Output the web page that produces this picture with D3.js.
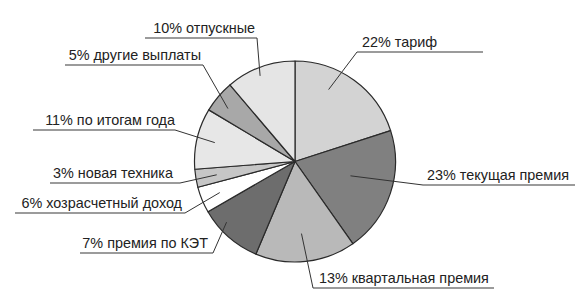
<!DOCTYPE html>
<html><head><meta charset="utf-8">
<script src="https://cdn.jsdelivr.net/npm/d3@7"></script>
<style>html,body{margin:0;padding:0;background:#fff;}svg{display:block;}</style>
</head><body>
<svg id="chart" width="583" height="297"></svg>
<script>
// Data (clockwise from 12 o'clock)
const categories = ["тариф","текущая премия","квартальная премия","премия по КЭТ","хозрасчетный доход","новая техника","по итогам года","другие выплаты","отпускные"];
const percentLabels = [22, 23, 13, 7, 6, 3, 11, 5, 10];
// slice shares as drawn in the picture (percent of the circle)
const sliceShares = [20.0, 20.2, 16.1, 10.3, 4.2, 2.9, 9.8, 5.2, 11.2];
const fills = ["#d3d3d3","#808080","#b9b9b9","#6d6d6d","#ffffff","#c6c6c6","#e7e7e7","#a8a8a8","#e5e5e5"];

// Label layout (annotation positions)
const labelLayout = [
  {side:"R", tx:362, ux0:357, ux1:483, uy:52, r:0.79, da:-11},
  {side:"R", tx:427, ux0:423, ux1:575, uy:185, r:0.57, da:-4},
  {side:"R", tx:319, ux0:313, ux1:494, uy:288, r:0.72, da:1},
  {side:"L", tx:208, ux0:80,  ux1:213, uy:253, r:0.91, da:7},
  {side:"L", tx:182, ux0:15,  ux1:185, uy:213, r:0.81, da:0},
  {side:"L", tx:173, ux0:50,  ux1:180, uy:183, r:0.79, da:0},
  {side:"L", tx:175, ux0:33,  ux1:175, uy:130, r:0.82, da:0},
  {side:"L", tx:201, ux0:65,  ux1:203, uy:65,  r:0.85, da:-2},
  {side:"L", tx:255, ux0:145, ux1:257, uy:38,  r:0.92, da:-2}
];

const cx = 295, cy = 161.5, R = 100.5;
const svg = d3.select("#chart");
const g = svg.append("g").attr("transform", `translate(${cx},${cy})`);

const pie = d3.pie().sort(null).value(d => d)(sliceShares);
const arc = d3.arc().innerRadius(0).outerRadius(R);

g.selectAll("path.slice").data(pie).enter().append("path")
  .attr("class","slice")
  .attr("d", arc)
  .attr("fill", (d,i) => fills[i])
  .attr("stroke", "#2a2a2a")
  .attr("stroke-width", 1.2)
  .attr("stroke-linejoin","round");

// Labels
const lab = svg.append("g");
pie.forEach((d,i) => {
  const L = labelLayout[i];
  const a = (d.startAngle + d.endAngle)/2 + L.da*Math.PI/180;
  const px = cx + Math.sin(a)*R*L.r, py = cy - Math.cos(a)*R*L.r;
  const ax = L.side === "L" ? L.ux1 : L.ux0;
  lab.append("line").attr("x1", L.ux0).attr("x2", L.ux1).attr("y1", L.uy).attr("y2", L.uy)
    .attr("stroke", "#7a7a7a").attr("stroke-width", 1.4);
  lab.append("line").attr("x1", ax).attr("y1", L.uy).attr("x2", px).attr("y2", py)
    .attr("stroke", "#333").attr("stroke-width", 1);
  lab.append("text")
    .attr("x", L.tx).attr("y", L.uy - 5)
    .attr("text-anchor", L.side === "L" ? "end" : "start")
    .attr("font-family", "'Liberation Sans', Arial, sans-serif")
    .attr("font-size", 14.4)
    .attr("fill", "#222")
    .text(percentLabels[i] + "% " + categories[i]);
});
</script>
</body></html>
